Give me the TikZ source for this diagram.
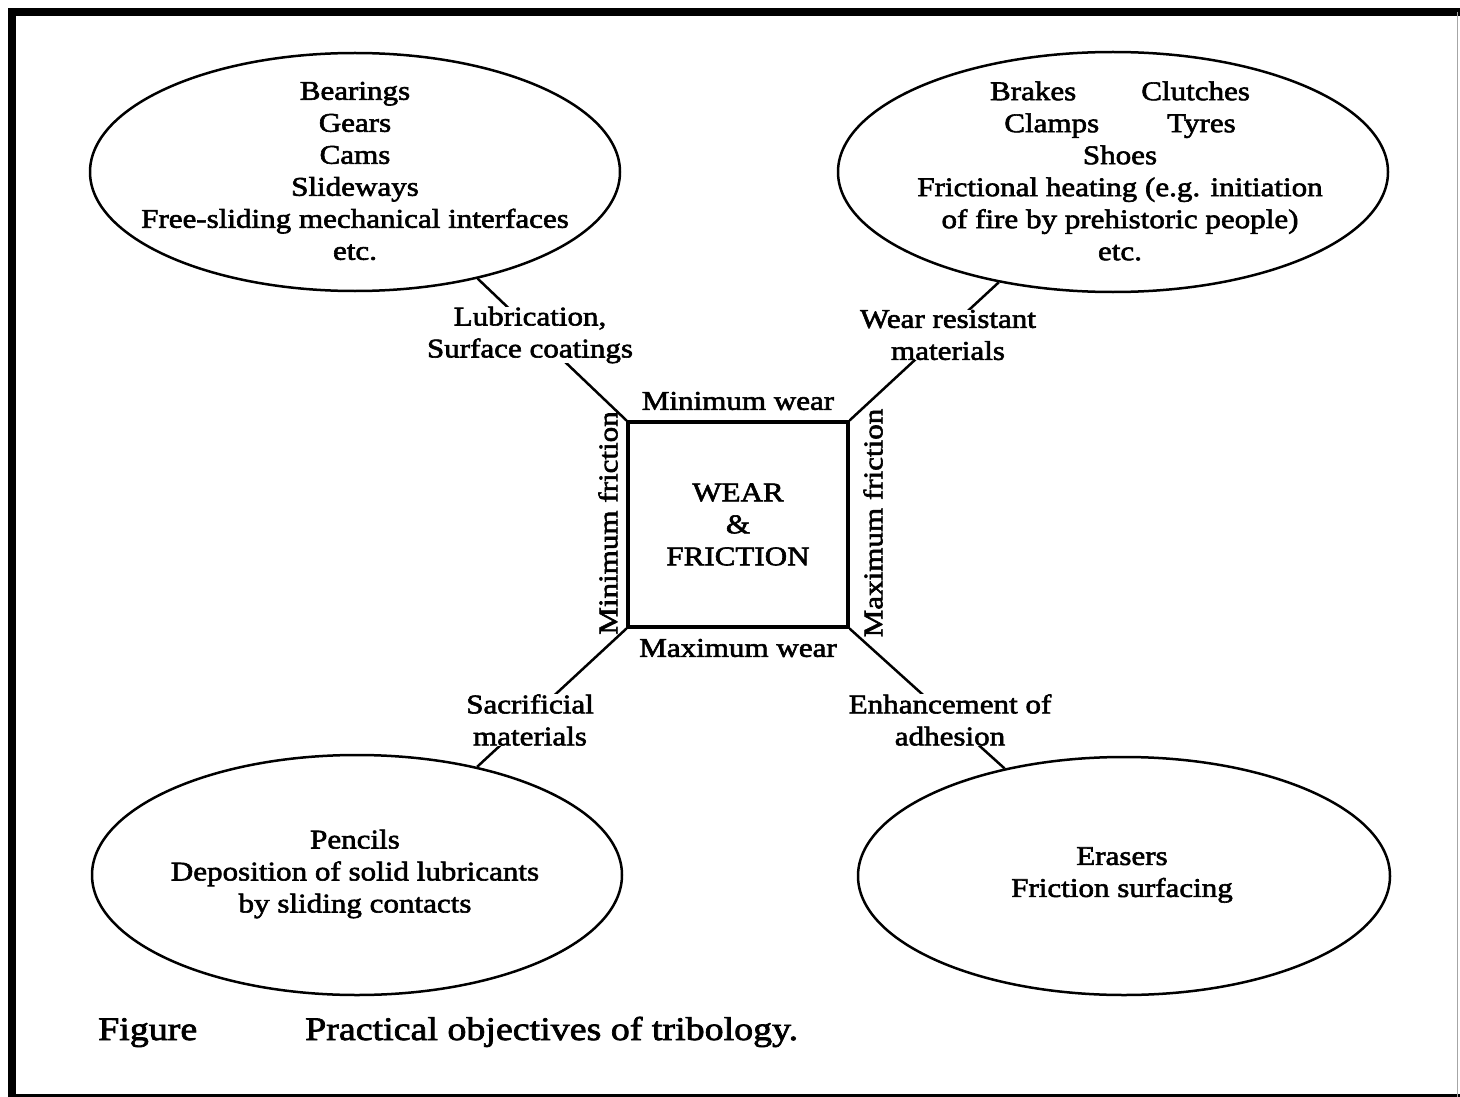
\documentclass[tikz,border=0pt]{standalone}
\usepackage{fontspec}
\setmainfont{Liberation Serif}[FakeStretch=1.15, FakeBold=2.2]
\usetikzlibrary{shapes.geometric}
\begin{document}
\begin{tikzpicture}[x=1pt,y=-1pt,
  every node/.style={font=\fontsize{27}{32}\selectfont, inner sep=0pt, align=center},
  oval/.style={draw, ellipse, line width=2.5pt},
  conn/.style={line width=2.5pt},
  lbl/.style={fill=white, inner sep=0pt},
  captionstyle/.style={anchor=base west, font=\fontsize{33}{38}\selectfont}]
\useasboundingbox (0,0) rectangle (1460,1097);
\fill[white] (0,0) rectangle (1460,1097);

% outer frame
\draw[line width=8pt] (12,1097) -- (12,12) -- (1460,12);
\draw[line width=2.5pt] (8,1095.5) -- (1460,1095.5);
\draw[line width=1pt, black!35] (1457,12) -- (1457,1097);

% four application ovals
\node[oval, minimum width=530pt, minimum height=238pt] (tl) at (355,172) {};
\node[oval, minimum width=550pt, minimum height=240pt] (tr) at (1113,172) {};
\node[oval, minimum width=530pt, minimum height=240pt] (bl) at (357,875) {};
\node[oval, minimum width=532pt, minimum height=238pt] (br) at (1124,876) {};

\node (tltxt) at (355,171) {Bearings\\Gears\\Cams\\Slideways\\Free-sliding mechanical interfaces\\etc.};
\node (trtxt) at (1120,171) {Brakes\hspace{65pt}Clutches\\Clamps\hspace{68pt}Tyres\\Shoes\\Frictional heating (e.g. initiation\\of fire by prehistoric people)\\etc.};
\node (bltxt) at (355,874) {Pencils\\Deposition of solid lubricants\\by sliding contacts};
\node (brtxt) at (1122,875) {Erasers\\Friction surfacing};

% central box
\node[draw, line width=3.2pt, minimum width=220pt, minimum height=205pt] (wf) at (738,524.5) {WEAR\\\&\\FRICTION};

% connectors from the box corners to the ovals
\draw[conn] (wf.north west) -- (tl.-41.7);
\draw[conn] (wf.north east) -- (tr.-136.6);
\draw[conn] (wf.south west) -- (bl.42.7);
\draw[conn] (wf.south east) -- (br.138.2);

% connector labels
\node[lbl] (lub) at (530,335) {Lubrication,\\Surface coatings};
\node[lbl] (wrm) at (948,335) {Wear resistant\\materials};
\node[lbl] (sac) at (530,720) {Sacrificial\\materials};
\node[lbl] (enh) at (950,720) {Enhancement of\\adhesion};

% box side labels
\node (minw) at (738,401) {Minimum wear};
\node (maxw) at (738,648) {Maximum wear};
\node[rotate=90] (minf) at (608,523) {Minimum friction};
\node[rotate=90] (maxf) at (873,523) {Maximum friction};

% caption
\node[captionstyle] (figlbl) at (98,1040) {Figure};
\node[captionstyle] (captxt) at (305,1040) {Practical objectives of tribology.};
\end{tikzpicture}
\end{document}
